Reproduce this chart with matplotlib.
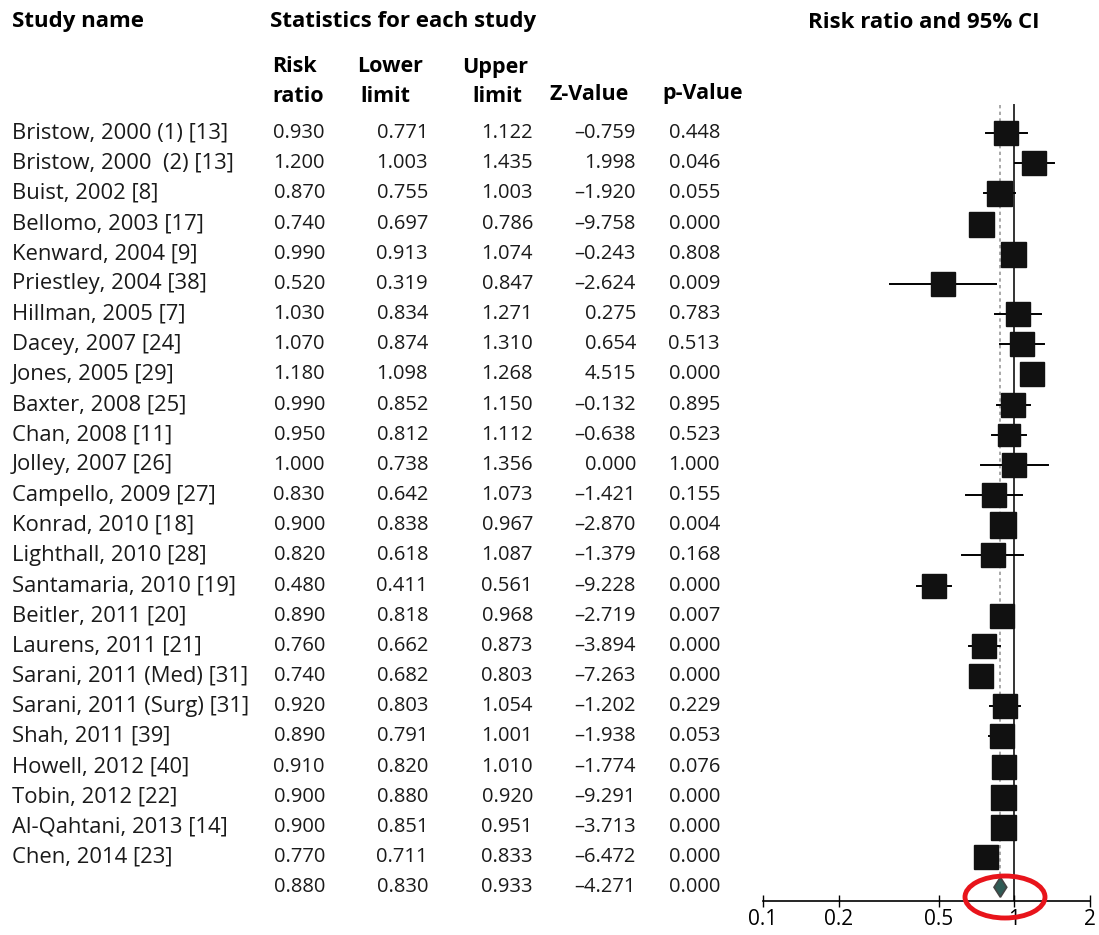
import matplotlib
matplotlib.use("Agg")
import matplotlib.pyplot as plt
from matplotlib.patches import Ellipse, Polygon
import matplotlib.transforms as mtransforms

# --- data ---
studies = ["Bristow, 2000 (1) [13]", "Bristow, 2000  (2) [13]", "Buist, 2002 [8]",
           "Bellomo, 2003 [17]", "Kenward, 2004 [9]", "Priestley, 2004 [38]",
           "Hillman, 2005 [7]", "Dacey, 2007 [24]", "Jones, 2005 [29]",
           "Baxter, 2008 [25]", "Chan, 2008 [11]", "Jolley, 2007 [26]",
           "Campello, 2009 [27]", "Konrad, 2010 [18]", "Lighthall, 2010 [28]",
           "Santamaria, 2010 [19]", "Beitler, 2011 [20]", "Laurens, 2011 [21]",
           "Sarani, 2011 (Med) [31]", "Sarani, 2011 (Surg) [31]", "Shah, 2011 [39]",
           "Howell, 2012 [40]", "Tobin, 2012 [22]", "Al-Qahtani, 2013 [14]",
           "Chen, 2014 [23]"]
risk_ratio = [0.930, 1.200, 0.870, 0.740, 0.990, 0.520, 1.030, 1.070, 1.180, 0.990,
              0.950, 1.000, 0.830, 0.900, 0.820, 0.480, 0.890, 0.760, 0.740, 0.920,
              0.890, 0.910, 0.900, 0.900, 0.770]
lower = [0.771, 1.003, 0.755, 0.697, 0.913, 0.319, 0.834, 0.874, 1.098, 0.852,
         0.812, 0.738, 0.642, 0.838, 0.618, 0.411, 0.818, 0.662, 0.682, 0.803,
         0.791, 0.820, 0.880, 0.851, 0.711]
upper = [1.122, 1.435, 1.003, 0.786, 1.074, 0.847, 1.271, 1.310, 1.268, 1.150,
         1.112, 1.356, 1.073, 0.967, 1.087, 0.561, 0.968, 0.873, 0.803, 1.054,
         1.001, 1.010, 0.920, 0.951, 0.833]
z_value = [-0.759, 1.998, -1.920, -9.758, -0.243, -2.624, 0.275, 0.654, 4.515, -0.132,
           -0.638, 0.000, -1.421, -2.870, -1.379, -9.228, -2.719, -3.894, -7.263, -1.202,
           -1.938, -1.774, -9.291, -3.713, -6.472]
p_value = [0.448, 0.046, 0.055, 0.000, 0.808, 0.009, 0.783, 0.513, 0.000, 0.895,
           0.523, 1.000, 0.155, 0.004, 0.168, 0.000, 0.007, 0.000, 0.000, 0.229,
           0.053, 0.076, 0.000, 0.000, 0.000]
# relative study weights (box size), estimated from the squares
weights = [0.92, 0.92, 1.00, 1.00, 1.00, 0.97, 0.97, 0.92, 0.92, 0.92,
           0.88, 0.97, 0.92, 1.05, 0.97, 0.97, 0.97, 0.92, 0.97, 0.97,
           0.97, 0.97, 1.00, 1.00, 0.97]
pooled = [0.880, 0.830, 0.933, -4.271, 0.000]
ticks = [0.1, 0.2, 0.5, 1, 2]
tick_labels = ["0.1", "0.2", "0.5", "1", "2"]

plt.rcParams['font.family'] = ['Open Sans', 'DejaVu Sans']
W, H = 1099, 935
fig = plt.figure(figsize=(W / 100, H / 100), dpi=100)
fig.patch.set_facecolor("white")

ax = fig.add_axes([763 / W, 1 - 901 / H, (1090 - 763) / W, 901 / H])
ax.set_xscale("log")
ax.set_xlim(0.1, 2)
n = len(studies)
row_px = 30.17
ax.set_ylim((901 - 133) / row_px, -133 / row_px)

for s in ["top", "right", "left"]:
    ax.spines[s].set_visible(False)
ax.spines["bottom"].set_linewidth(1.2)
ax.set_yticks([])
ax.set_xticks(ticks)
ax.set_xticklabels(tick_labels)
ax.minorticks_off()
ax.tick_params(axis="x", direction="inout", length=8, width=1.0, labelsize=15, pad=2)

# reference lines
ax.plot([1, 1], [-0.93, (901 - 133) / row_px], color="#333333", lw=1.4, zorder=1)
ax.plot([pooled[0], pooled[0]], [-0.93, n - 0.3], color="#999999", lw=1.2,
        ls=(0, (2, 2)), zorder=1)

for i in range(n):
    ax.plot([lower[i], upper[i]], [i, i], color="black", lw=1.4, zorder=2)
    ax.plot(risk_ratio[i], i, marker="s", ms=18 * weights[i], color="#111111",
            mec="#111111", zorder=3)

# pooled diamond
d = Polygon([[pooled[1], n], [pooled[0], n - 0.33], [pooled[2], n], [pooled[0], n + 0.33]],
            closed=True, facecolor="#2f5b55", edgecolor="#444444", lw=1.2, zorder=3)
ax.add_patch(d)

# --- table text, x in figure px, y in row units ---
tr = mtransforms.blended_transform_factory(fig.transFigure, ax.transData)
fs = 14.5
fs_name = 15.8
fs_head = 16
col_right = [325, 428, 533, 636, 720]


def fx(px):
    return px / W


def fmt(v):
    s = "%.3f" % v
    return s.replace("-", "\u2013")


for i in range(n):
    ax.text(fx(12), i, studies[i], transform=tr, ha="left", va="center", fontsize=fs_name,
            color="#1a1a1a")
    vals = [risk_ratio[i], lower[i], upper[i], z_value[i], p_value[i]]
    for c, v in zip(col_right, vals):
        ax.text(fx(c), i, fmt(v), transform=tr, ha="right", va="center", fontsize=fs,
                color="#1a1a1a")
for c, v in zip(col_right, pooled):
    ax.text(fx(c), n, fmt(v), transform=tr, ha="right", va="center", fontsize=fs,
            color="#1a1a1a")

hy = (22 - 133) / row_px
ax.text(fx(12), hy, "Study name", transform=tr, ha="left", va="center", fontsize=fs_head,
        fontweight="bold", clip_on=False)
ax.text(fx(270), hy, "Statistics for each study", transform=tr, ha="left", va="center",
        fontsize=fs_head, fontweight="bold", clip_on=False)
ax.text(fx(808), hy, "Risk ratio and 95% CI", transform=tr, ha="left", va="center",
        fontsize=fs_head, fontweight="bold", clip_on=False)

y1 = (67 - 133) / row_px
y2 = (97 - 133) / row_px
y3 = (94 - 133) / row_px
hk = dict(transform=tr, ha="left", va="center", fontsize=15.5, fontweight="bold")
ax.text(fx(272), y1, "Risk", **hk)
ax.text(fx(272), y2, "ratio", **hk)
ax.text(fx(357), y1, "Lower", **hk)
ax.text(fx(360), y2, "limit", **hk)
ax.text(fx(462), y1, "Upper", **hk)
ax.text(fx(472), y2, "limit", **hk)
ax.text(fx(550), y3, "Z-Value", **hk)
ax.text(fx(662), y3, "p-Value", **hk)

# red highlight around the pooled estimate
ell = Ellipse((1005 / W, 1 - 897 / H), 80 / W, 42 / H, transform=fig.transFigure,
              facecolor="none", edgecolor="#e8141b", lw=3.5, zorder=10)
fig.patches.append(ell)

fig.savefig("out.png", dpi=100, facecolor="white")
